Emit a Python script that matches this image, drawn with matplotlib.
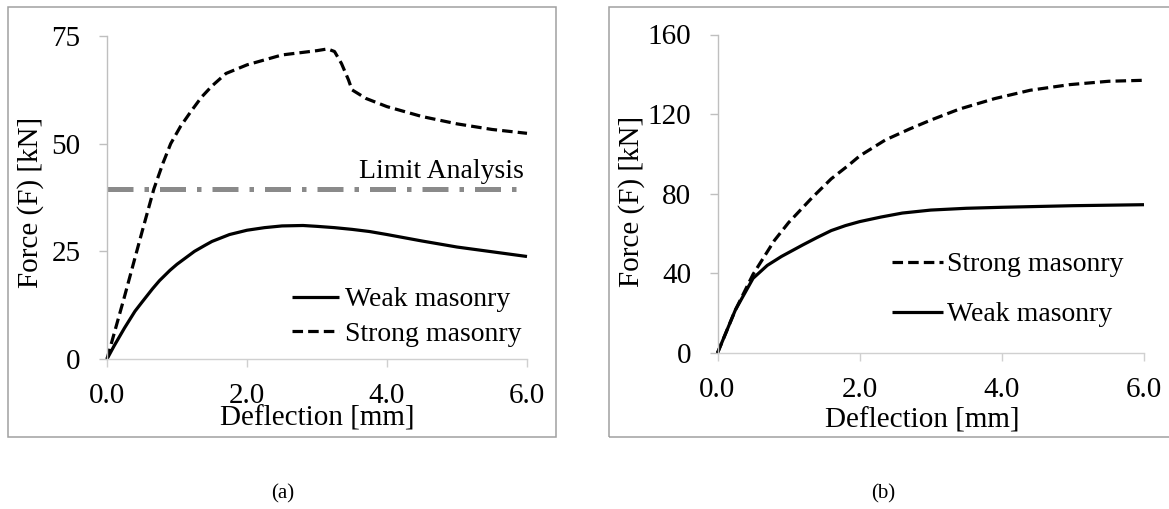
import matplotlib
matplotlib.use("Agg")
import matplotlib.pyplot as plt
from matplotlib.patches import Rectangle

plt.rcParams['font.family'] = ['Liberation Serif', 'DejaVu Serif']

# ---- (a) masonry panel data ----
a_weak_x = [0.0, 0.1, 0.25, 0.4, 0.5, 0.65, 0.75, 0.9, 1.0, 1.15, 1.25, 1.4, 1.5, 1.75,
            2.0, 2.25, 2.5, 2.8, 3.0, 3.25, 3.5, 3.75, 4.0, 4.5, 5.0, 5.5, 6.0]
a_weak_f = [0.0, 3.0, 7.2, 11.1, 13.2, 16.3, 18.2, 20.6, 22.0, 23.8, 25.0, 26.4, 27.3, 28.9,
            29.9, 30.5, 30.9, 31.0, 30.8, 30.5, 30.1, 29.6, 28.9, 27.4, 26.0, 24.9, 23.8]

a_strong_x = [0.0, 0.25, 0.5, 0.67, 0.8, 0.91, 1.05, 1.2, 1.35, 1.5, 1.7, 2.0, 2.5,
              3.0, 3.15, 3.25, 3.35, 3.45, 3.5, 3.7, 4.0, 4.5, 5.0, 5.5, 6.0]
a_strong_f = [0.0, 14.5, 29.5, 39.5, 45.5, 50.0, 54.0, 57.5, 60.8, 63.4, 66.3, 68.3, 70.6,
              71.6, 72.0, 71.4, 68.6, 64.8, 62.5, 60.5, 58.6, 56.3, 54.6, 53.3, 52.4]

limit_analysis_f = 39.5

# ---- (b) masonry panel data ----
b_strong_x = [0.0, 0.25, 0.5, 0.8, 1.0, 1.33, 1.6, 1.85, 2.0, 2.36, 2.7, 3.0, 3.4, 3.9,
              4.4, 4.95, 5.5, 6.0]
b_strong_f = [0.0, 21.5, 39.5, 56.5, 65.5, 78.0, 87.5, 94.5, 99.0, 107.0, 112.5, 117.0,
              122.5, 127.8, 132.0, 134.8, 136.5, 137.0]

b_weak_x = [0.0, 0.25, 0.5, 0.7, 0.9, 1.2, 1.4, 1.6, 1.8, 2.0, 2.3, 2.6, 3.0, 3.5, 4.0,
            5.0, 6.0]
b_weak_f = [0.0, 21.5, 37.5, 44.0, 48.5, 54.3, 58.0, 61.5, 64.0, 66.0, 68.3, 70.3, 71.8,
            72.7, 73.2, 74.0, 74.5]

a_yticks = [0, 25, 50, 75]
b_yticks = [0, 40, 80, 120, 160]
x_ticks = [0.0, 2.0, 4.0, 6.0]

W, H = 1169, 509
fig = plt.figure(figsize=(W / 100, H / 100), dpi=100)


def fx(px):
    return px / W


def fy(py):
    return (H - py) / H


FS = 21      # ticks and axis titles
FS_LEG = 20  # legend entries and in-plot annotation
DASH = (3.3, 1.6)
LW = 2.3


def style_axes(ax, yticks, ymax):
    ax.set_xlim(0, 6)
    ax.set_ylim(0, ymax)
    ax.set_xticks(x_ticks)
    ax.set_xticklabels([f"{v:.1f}" for v in x_ticks])
    ax.set_yticks(yticks)
    for s in ('top', 'right'):
        ax.spines[s].set_visible(False)
    ax.spines['left'].set_color('#bfbfbf')
    ax.spines['bottom'].set_color('#d0d0d0')
    ax.spines['left'].set_linewidth(1.0)
    ax.spines['bottom'].set_linewidth(1.0)
    ax.tick_params(axis='y', direction='out', length=6, width=1.0, color='#bfbfbf',
                   labelsize=FS, pad=13)
    ax.tick_params(axis='x', direction='out', length=6, width=1.0, color='#d0d0d0',
                   labelsize=FS, pad=11)
    ax.set_facecolor('none')


# outer chart frames
fig.patches.append(Rectangle((fx(8), fy(437)), fx(556) - fx(8), fy(7) - fy(437),
                             transform=fig.transFigure, fill=False,
                             edgecolor='#a0a0a0', linewidth=1.1))
fig.patches.append(Rectangle((fx(609), fy(437)), fx(1175) - fx(609), fy(7) - fy(437),
                             transform=fig.transFigure, fill=False,
                             edgecolor='#a0a0a0', linewidth=1.1))

# ---------------- panel (a) ----------------
axa = fig.add_axes([fx(107), fy(359), fx(527) - fx(107), fy(36) - fy(359)])
style_axes(axa, a_yticks, 75)
axa.axhline(limit_analysis_f, color='#8a8a8a', linewidth=3.6,
            dashes=(5.2, 2.2, 0.9, 2.2), zorder=1)
axa.text(5.95, limit_analysis_f + 1.2, "Limit Analysis", fontsize=FS_LEG,
         ha='right', va='bottom')
la_w, = axa.plot(a_weak_x, a_weak_f, color='black', linewidth=LW,
                 solid_capstyle='butt', solid_joinstyle='round',
                 label='Weak masonry', clip_on=False)
la_s, = axa.plot(a_strong_x, a_strong_f, color='black', linewidth=LW,
                 dashes=DASH, label='Strong masonry', clip_on=False)
axa.legend(handles=[la_w, la_s], loc='upper left',
           bbox_to_anchor=(fx(292), fy(287)), bbox_transform=fig.transFigure,
           frameon=False, fontsize=FS_LEG, handlelength=1.7, handletextpad=0.2,
           labelspacing=0.33, borderpad=0, borderaxespad=0)

fig.text(fx(317), fy(419), "Deflection [mm]", fontsize=FS, ha='center', va='center')
fig.text(fx(31), fy(202), "Force (F) [kN]", fontsize=FS, ha='center', va='center',
         rotation=90)

# ---------------- panel (b) ----------------
axb = fig.add_axes([fx(717.5), fy(353), fx(1144) - fx(717.5), fy(34.5) - fy(353)])
style_axes(axb, b_yticks, 160)
lb_s, = axb.plot(b_strong_x, b_strong_f, color='black', linewidth=LW,
                 dashes=DASH, label='Strong masonry', clip_on=False)
lb_w, = axb.plot(b_weak_x, b_weak_f, color='black', linewidth=LW,
                 solid_capstyle='butt', solid_joinstyle='round',
                 label='Weak masonry', clip_on=False)
axb.legend(handles=[lb_s, lb_w], loc='upper left',
           bbox_to_anchor=(fx(892), fy(252)), bbox_transform=fig.transFigure,
           frameon=False, fontsize=FS_LEG, handlelength=1.85, handletextpad=0.12,
           labelspacing=0.88, borderpad=0, borderaxespad=0)

fig.text(fx(922), fy(421), "Deflection [mm]", fontsize=FS, ha='center', va='center')
fig.text(fx(632), fy(201), "Force (F) [kN]", fontsize=FS, ha='center', va='center',
         rotation=90)

# panel captions
fig.text(fx(283), fy(494), "(a)", fontsize=15, ha='center', va='center')
fig.text(fx(883), fy(494), "(b)", fontsize=15, ha='center', va='center')

fig.savefig("out.png", dpi=100)
